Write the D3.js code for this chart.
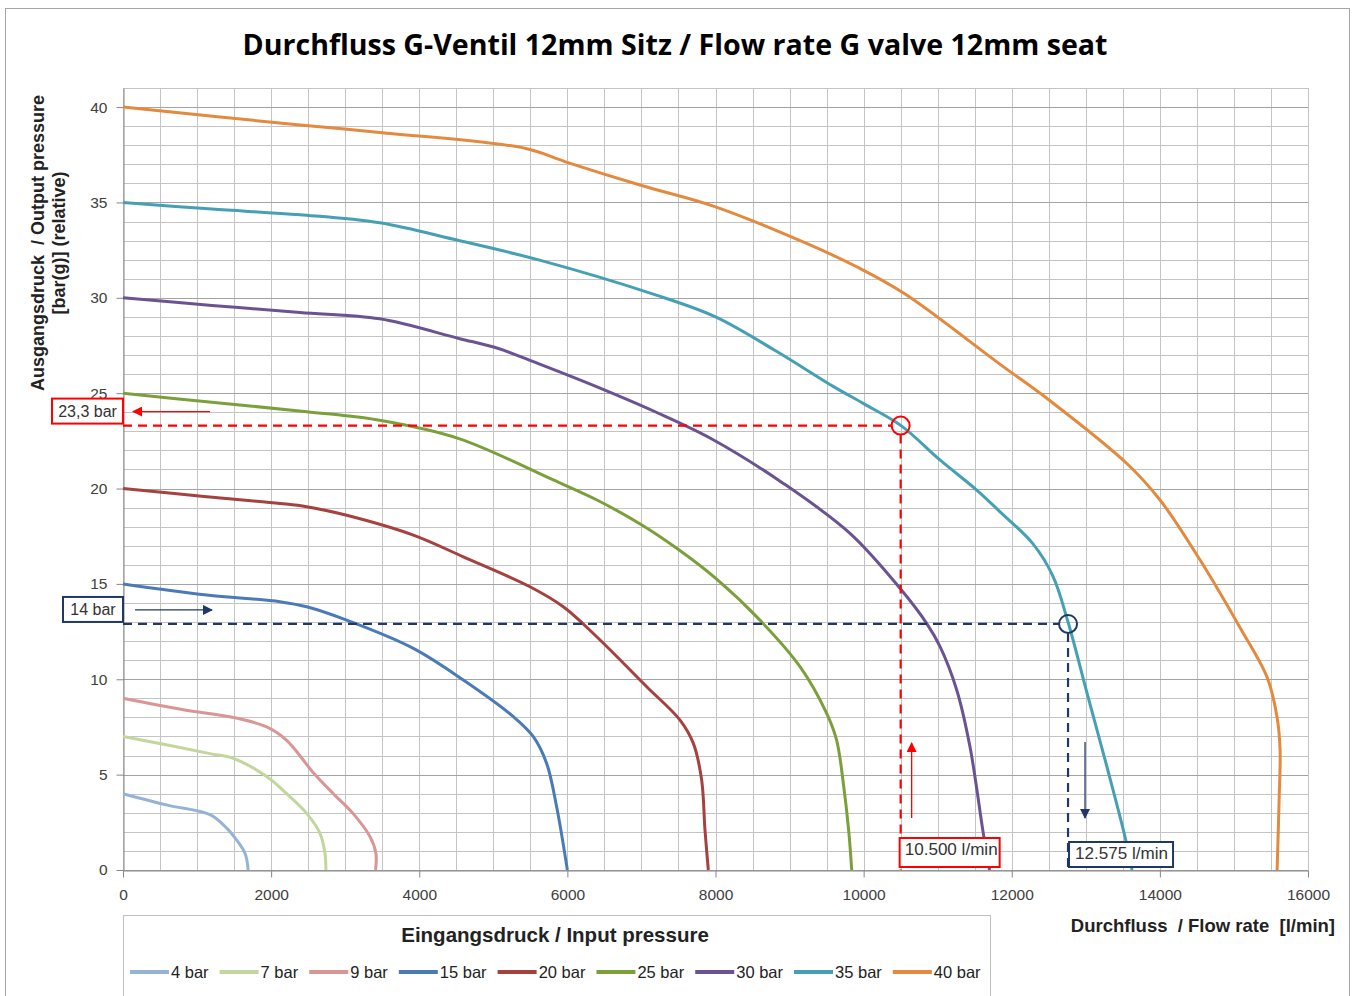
<!DOCTYPE html>
<html lang="de">
<head>
<meta charset="UTF-8">
<title>Durchfluss G-Ventil 12mm Sitz</title>
<script src="https://cdnjs.cloudflare.com/ajax/libs/d3/7.8.5/d3.min.js"></script>
<style>
    body { margin: 0; background: #fff; }
    svg { display: block; font-family: "Liberation Sans", Arial, sans-serif; }
    .tick text { font-size: 15.5px; fill: #404040; }
    .axis path, .axis line { stroke: #868686; }
</style>
</head>
<body>
<svg id="chart" width="1352" height="996"></svg>
<script>
// --- Data ---
const seriesNames = ["4 bar", "7 bar", "9 bar", "15 bar", "20 bar", "25 bar", "30 bar", "35 bar", "40 bar"];
const seriesColors = ["#95b3d7", "#c3d69b", "#d99694", "#4a7ab8", "#a5413f", "#7ba03b", "#6b5393", "#46a0b5", "#e48a3e"];

const flow4 = [0, 600, 1175, 1380, 1535, 1650, 1690];
const press4 = [4, 3.4, 2.9, 2.27, 1.57, 0.85, 0];
const flow7 = [0, 600, 1175, 1490, 1940, 2210, 2480, 2660, 2727, 2740];
const press7 = [7, 6.55, 6.1, 5.85, 4.9, 4.0, 2.97, 1.92, 0.87, 0];
const flow9 = [0, 815, 1490, 1940, 2210, 2570, 2840, 3105, 3335, 3415, 3410];
const press9 = [9, 8.4, 8.0, 7.5, 6.8, 5.1, 4.0, 2.97, 1.75, 0.87, 0];
const flow15 = [0, 1130, 2120, 2480, 3020, 3920, 4595, 5270, 5540, 5720, 5855, 6000];
const press15 = [15, 14.42, 14.07, 13.8, 13.1, 11.62, 9.96, 8.04, 6.99, 5.59, 3.32, 0];
const flow20 = [0, 1130, 2120, 2480, 3020, 3920, 4595, 5495, 5945, 6396, 7071, 7521, 7701, 7813, 7858, 7903];
const press20 = [20, 19.57, 19.22, 19.05, 18.6, 17.56, 16.42, 14.85, 13.8, 12.23, 9.61, 7.86, 6.64, 4.72, 2.1, 0];
const flow25 = [0, 1130, 2480, 3466, 4535, 5810, 6400, 7000, 7500, 8000, 8600, 9141, 9501, 9636, 9726, 9800, 9839];
const press25 = [25, 24.55, 24.03, 23.58, 22.62, 20.45, 19.4, 18.1, 16.8, 15.3, 13.1, 10.66, 8.21, 6.8, 4.54, 2.0, 0];
const flow30 = [0, 1200, 2390, 3466, 4535, 5070, 5600, 6400, 7200, 7950, 8916, 9816, 10491, 10851, 11032, 11257, 11436, 11616, 11700];
const press30 = [30, 29.6, 29.23, 28.9, 27.87, 27.34, 26.56, 25.33, 24.0, 22.6, 20.27, 17.65, 14.77, 12.93, 11.71, 9.44, 6.46, 1.92, 0];
const flow35 = [0, 1200, 2390, 3466, 4535, 5600, 7200, 8000, 8800, 9600, 10000, 10505, 11030, 11527, 11842, 12287, 12557, 12760, 13016, 13286, 13530, 13624];
const press35 = [35, 34.65, 34.35, 33.93, 33.0, 32.0, 30.14, 29.0, 27.25, 25.33, 24.45, 23.3, 21.5, 19.92, 18.78, 17.1, 15.4, 13.0, 9.28, 5.4, 1.73, 0];
const flow40 = [0, 2390, 3466, 5441, 5975, 6990, 8000, 9230, 9920, 10560, 11830, 12517, 13557, 14002, 14543, 15083, 15448, 15583, 15623, 15610, 15583];
const press40 = [40, 39.06, 38.67, 37.83, 37.13, 35.9, 34.77, 32.85, 31.6, 30.2, 26.55, 24.6, 21.3, 19.4, 16.25, 12.7, 10.1, 8.0, 6.3, 3.67, 0];

const flows = [flow4, flow7, flow9, flow15, flow20, flow25, flow30, flow35, flow40];
const pressures = [press4, press7, press9, press15, press20, press25, press30, press35, press40];

const xTicks = [0, 2000, 4000, 6000, 8000, 10000, 12000, 14000, 16000];
const yTicks = [0, 5, 10, 15, 20, 25, 30, 35, 40];

// reading examples (operating points)
const markFlow = [10500, 12760];
const markPressure = [23.3, 12.9];
const markPressureLabel = ["23,3 bar", "14 bar"];
const markFlowLabel = ["10.500 l/min", "12.575 l/min"];
const markColors = ["#ff0000", "#1f3864"];

// --- Setup ---
const svg = d3.select("#chart");
const plot = { left: 123, right: 1308, top: 88, bottom: 870 };

const x = d3.scaleLinear().domain([0, 16000]).range([plot.left, plot.right]);
const y = d3.scaleLinear().domain([0, 41]).range([plot.bottom, plot.top]);

// outer frame
svg.append("rect")
    .attr("x", 5.5).attr("y", 8.5).attr("width", 1344).attr("height", 1000)
    .attr("fill", "#fff").attr("stroke", "#a6a6a6");

// title
svg.append("text")
    .attr("x", 675).attr("y", 55)
    .attr("text-anchor", "middle")
    .attr("textLength", 865).attr("lengthAdjust", "spacingAndGlyphs")
    .style("font-family", "'Open Sans', 'Noto Sans', sans-serif")
    .style("font-weight", "700").style("font-size", "28px")
    .text("Durchfluss G-Ventil 12mm Sitz / Flow rate G valve 12mm seat");

// --- Grid ---
const grid = svg.append("g");
grid.selectAll(".vg").data(d3.range(0, 16001, 500)).join("line")
    .attr("x1", d => Math.round(x(d)) + 0.5).attr("x2", d => Math.round(x(d)) + 0.5)
    .attr("y1", plot.top).attr("y2", plot.bottom)
    .attr("stroke", "#c4c4c4");
grid.selectAll(".hg").data(d3.range(0, 42, 1)).join("line")
    .attr("x1", plot.left).attr("x2", plot.right)
    .attr("y1", d => Math.round(y(d)) + 0.5).attr("y2", d => Math.round(y(d)) + 0.5)
    .attr("stroke", d => d % 5 === 0 ? "#a3a3a3" : "#c4c4c4");

// --- Axes ---
svg.append("g")
    .attr("class", "axis")
    .attr("transform", `translate(0,${Math.round(y(0)) + 0.5})`)
    .call(d3.axisBottom(x).tickValues(xTicks).tickSize(7).tickSizeOuter(0).tickFormat(d3.format("d")))
    .call(g => g.selectAll(".tick text").attr("y", 18).attr("dy", "0.71em"));

svg.append("g")
    .attr("class", "axis")
    .attr("transform", `translate(${Math.round(x(0)) + 0.5},0)`)
    .call(d3.axisLeft(y).tickValues(yTicks).tickSize(7).tickSizeOuter(0))
    .call(g => g.selectAll(".tick text").attr("x", -16));

// axis titles
const yTitle = svg.append("text")
    .attr("transform", "translate(44,243) rotate(-90)")
    .attr("text-anchor", "middle")
    .style("font-weight", "700").style("font-size", "18px").style("fill", "#222")
    .style("white-space", "pre");
yTitle.append("tspan").attr("x", 0).attr("y", 0).text("Ausgangsdruck  / Output pressure");
yTitle.append("tspan").attr("x", 0).attr("y", 21).text("[bar(g)] (relative)");

svg.append("text")
    .attr("x", 1335).attr("y", 932)
    .attr("text-anchor", "end")
    .style("font-weight", "700").style("font-size", "18.5px").style("fill", "#222")
    .style("white-space", "pre")
    .text("Durchfluss  / Flow rate  [l/min]");

// --- Curves ---
const line = d3.line()
    .x(d => x(d[0]))
    .y(d => y(d[1]))
    .curve(d3.curveCatmullRom.alpha(0.5));

svg.append("g").selectAll("path")
    .data(seriesNames.map((n, i) => flows[i].map((f, j) => [f, pressures[i][j]])))
    .join("path")
    .attr("d", line)
    .attr("fill", "none")
    .attr("stroke", (d, i) => seriesColors[i])
    .attr("stroke-width", 3)
    .attr("stroke-linejoin", "round");

// --- Annotations ---
const defs = svg.append("defs");
markColors.forEach((c, i) => {
    defs.append("marker")
        .attr("id", "arrow" + i)
        .attr("viewBox", "0 0 10 10")
        .attr("refX", 9).attr("refY", 5)
        .attr("markerUnits", "userSpaceOnUse")
        .attr("markerWidth", 12).attr("markerHeight", 10)
        .attr("orient", "auto")
        .append("path").attr("d", "M0,0 L10,5 L0,10 Z").attr("fill", c);
});

const ann = svg.append("g");
markFlow.forEach((f, i) => {
    const c = markColors[i];
    const px = x(f), py = y(markPressure[i]);
    // dashed guide lines
    ann.append("line")
        .attr("x1", x(0)).attr("x2", px - 9).attr("y1", py).attr("y2", py)
        .attr("stroke", c).attr("stroke-width", 2.2).attr("stroke-dasharray", "9,6");
    ann.append("line")
        .attr("x1", px).attr("x2", px).attr("y1", py + 9).attr("y2", y(0))
        .attr("stroke", c).attr("stroke-width", 2.2).attr("stroke-dasharray", "9,6");
    ann.append("circle")
        .attr("cx", px).attr("cy", py).attr("r", 9)
        .attr("fill", "none").attr("stroke", c).attr("stroke-width", 2);

    // pressure label box at the y axis
    const pw = i === 0 ? 71 : 60;
    ann.append("rect")
        .attr("x", x(0) - pw).attr("y", py - 27).attr("width", pw).attr("height", 25)
        .attr("fill", "#fff").attr("stroke", c).attr("stroke-width", 2);
    ann.append("text")
        .attr("x", x(0) - pw / 2).attr("y", py - 9)
        .attr("text-anchor", "middle")
        .style("font-size", "16px").style("fill", "#333")
        .text(markPressureLabel[i]);
    // horizontal arrow
    ann.append("line")
        .attr("x1", i === 0 ? x(0) + 87 : x(0) + 12)
        .attr("x2", i === 0 ? x(0) + 10 : x(0) + 89)
        .attr("y1", py - 14).attr("y2", py - 14)
        .attr("stroke", c).attr("stroke-width", 1.3)
        .attr("marker-end", `url(#arrow${i})`);

    // flow label box at the bottom
    const fw = i === 0 ? 100 : 104;
    const fy = i === 0 ? 838 : 842;
    ann.append("rect")
        .attr("x", px - 1 + i * 2).attr("y", fy).attr("width", fw).attr("height", y(0) - fy - 3)
        .attr("fill", "#fff").attr("stroke", c).attr("stroke-width", 2);
    ann.append("text")
        .attr("x", px + 4 + i * 3).attr("y", fy + 17)
        .attr("textLength", 93).attr("lengthAdjust", "spacingAndGlyphs")
        .style("font-size", "16px").style("fill", "#333")
        .text(markFlowLabel[i]);
    // vertical arrow
    ann.append("line")
        .attr("x1", px + (i === 0 ? 11 : 17)).attr("x2", px + (i === 0 ? 11 : 17))
        .attr("y1", i === 0 ? 818 : 742).attr("y2", i === 0 ? 743 : 818)
        .attr("stroke", c).attr("stroke-width", 1.3)
        .attr("marker-end", `url(#arrow${i})`);
});

// --- Legend ---
const legend = svg.append("g");
legend.append("rect")
    .attr("x", 123.5).attr("y", 915.5).attr("width", 867).attr("height", 100)
    .attr("fill", "#fff").attr("stroke", "#bfbfbf");
legend.append("text")
    .attr("x", 555).attr("y", 942)
    .attr("text-anchor", "middle")
    .style("font-weight", "700").style("font-size", "20.5px").style("fill", "#222")
    .text("Eingangsdruck / Input pressure");

let lx = 130;
seriesNames.forEach((n, i) => {
    legend.append("line")
        .attr("x1", lx).attr("x2", lx + 39).attr("y1", 972).attr("y2", 972)
        .attr("stroke", seriesColors[i]).attr("stroke-width", 4);
    const t = legend.append("text")
        .attr("x", lx + 41).attr("y", 978)
        .style("font-size", "16.5px").style("fill", "#222")
        .text(n);
    lx += 41 + t.node().getComputedTextLength() + 11;
});
</script>
</body>
</html>
